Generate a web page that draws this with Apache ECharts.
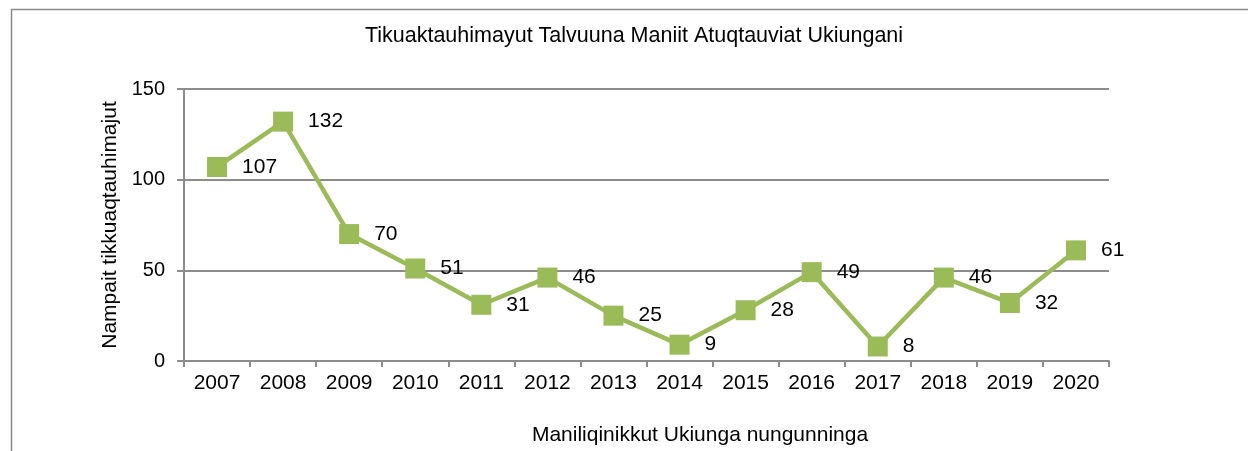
<!DOCTYPE html>
<html>
<head>
<meta charset="utf-8">
<script src="https://cdn.jsdelivr.net/npm/echarts@6/dist/echarts.min.js"></script>
<style>
  html, body { margin: 0; padding: 0; background: #fff; }
  #chart { width: 1248px; height: 451px; }
</style>
</head>
<body>
<div id="chart"></div>
<script>
// Years on the category axis
const years = ['2007', '2008', '2009', '2010', '2011', '2012', '2013',
               '2014', '2015', '2016', '2017', '2018', '2019', '2020'];
// Count per year
const counts = [107, 132, 70, 51, 31, 46, 25, 9, 28, 49, 8, 46, 32, 61];
// Value axis ticks
const yTicks = [0, 50, 100, 150];

const titleText = 'Tikuaktauhimayut Talvuuna Maniit Atuqtauviat Ukiungani';
const yName = 'Nampait tikkuaqtauhimajut';
const xName = 'Maniliqinikkut Ukiunga nungunninga';

const font = 'Liberation Sans, Arial, sans-serif';
const green = '#9BBB59';
const axisGray = '#8c8c8c';

const chart = echarts.init(document.getElementById('chart'), null, { renderer: 'canvas' });

chart.setOption({
  animation: false,
  backgroundColor: '#fff',
  title: [{
    text: titleText,
    left: 634, top: 20, textAlign: 'center',
    textStyle: { fontFamily: font, fontSize: 21.5, fontWeight: 'normal', color: '#000' }
  }, {
    text: xName,
    left: 695, top: 420, textAlign: 'center',
    textStyle: { fontFamily: font, fontSize: 21, fontWeight: 'normal', color: '#000' }
  }],
  graphic: [{
    type: 'polyline',
    shape: { points: [[11.5, 451], [11.5, 9.5], [1248, 9.5]] },
    style: { stroke: '#8a8a8a', lineWidth: 1.5, fill: null },
    silent: true
  }, {
    type: 'text',
    x: 110, y: 225, rotation: Math.PI / 2,
    style: {
      text: yName, fontFamily: font, fontSize: 21, fill: '#000',
      align: 'center', verticalAlign: 'middle'
    }
  }],
  grid: { left: 184, right: 139, top: 89, bottom: 90, containLabel: false },
  xAxis: {
    type: 'category',
    data: years,
    boundaryGap: true,
    axisLine: { lineStyle: { color: axisGray, width: 2 } },
    axisTick: { show: true, alignWithLabel: false, length: 6, lineStyle: { color: axisGray, width: 2 } },
    axisLabel: { fontFamily: font, fontSize: 21, color: '#000', margin: 12 },
    splitLine: { show: false }
  },
  yAxis: {
    type: 'value',
    min: yTicks[0], max: yTicks[yTicks.length - 1], interval: yTicks[1] - yTicks[0],
    axisLine: { show: true, lineStyle: { color: axisGray, width: 2 } },
    axisTick: { show: true, length: 7, lineStyle: { color: axisGray, width: 2 } },
    axisLabel: { fontFamily: font, fontSize: 20, color: '#000', margin: 19 },
    splitLine: { show: true, lineStyle: { color: axisGray, width: 2 } }
  },
  series: [{
    type: 'line',
    data: counts,
    symbol: 'rect',
    symbolSize: 20,
    lineStyle: { color: green, width: 4.5 },
    itemStyle: { color: green },
    label: {
      show: true, position: 'right', distance: 15,
      fontFamily: font, fontSize: 21, color: '#000'
    },
    z: 5
  }]
});
// keep the heading centred where the frame expects it
chart.setOption({ title: [{ left: 629 }, {}] });
</script>
</body>
</html>
